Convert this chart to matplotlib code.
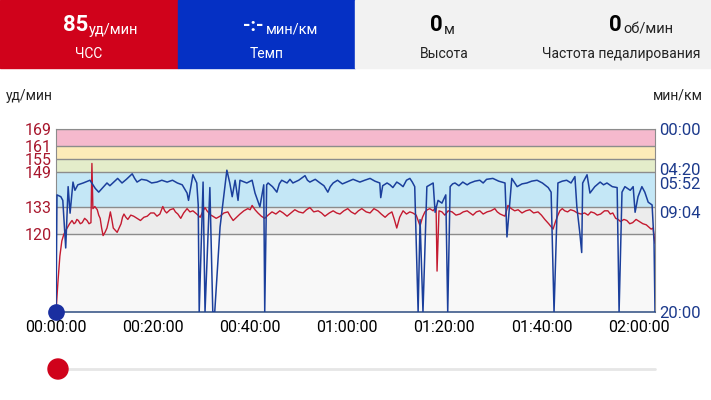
import matplotlib.pyplot as plt
from matplotlib.patches import Rectangle, Circle

plt.rcParams['font.family'] = ['Roboto', 'DejaVu Sans']

# heart rate, minutes from start / bpm
hr_t = [0.0, 0.4, 0.8, 1.2, 1.6, 2.0, 2.3, 2.8, 3.3, 3.7, 4.0, 4.3, 4.6, 5.0, 5.4, 5.9,
        6.4, 6.8, 7.2, 7.4, 7.6, 8.0, 8.5, 8.8, 9.1, 9.4, 9.7, 10.1, 10.5, 10.9, 11.2, 11.5,
        11.8, 12.2, 12.6, 13.0, 13.4, 13.7, 14.0, 14.4, 14.8, 15.4, 16.0, 16.7, 17.4, 18.1,
        18.8, 19.5, 20.2, 20.8, 21.4, 22.0, 22.4, 22.8, 23.5, 24.2, 24.6, 25.1, 25.7, 26.3,
        27.0, 27.6, 28.2, 29.0, 29.7, 30.2, 30.7, 31.1, 31.5, 31.9, 32.3, 33.0, 33.8, 34.6,
        35.4, 35.9, 36.5, 37.2, 37.9, 38.7, 39.5, 40.0, 40.4, 41.0, 41.6, 42.3, 43.0, 43.7,
        44.5, 45.3, 46.1, 46.8, 47.6, 48.4, 49.2, 50.0, 50.9, 51.6, 52.3, 53.1, 54.0, 54.7,
        55.4, 56.3, 57.1, 57.8, 58.5, 59.3, 60.1, 60.8, 61.6, 62.3, 63.0, 63.9, 64.7, 65.5,
        66.3, 67.0, 67.8, 68.5, 69.2, 69.7, 70.2, 70.8, 71.5, 72.2, 72.9, 73.5, 74.2, 74.6,
        75.0, 75.5, 76.0, 76.5, 77.0, 77.7, 78.3, 78.5, 78.9, 79.5, 80.1, 80.8, 81.6, 82.4,
        83.2, 83.9, 84.7, 85.3, 85.9, 86.6, 87.3, 88.0, 88.8, 89.6, 90.4, 90.9, 91.5, 92.0,
        92.5, 92.8, 93.1, 93.8, 94.5, 95.2, 96.0, 96.8, 97.6, 98.4, 99.3, 100.0, 100.7, 101.5,
        102.4, 102.9, 103.4, 103.8, 104.3, 104.8, 105.4, 106.0, 106.7, 107.4, 108.2, 108.9,
        109.6, 110.2, 110.9, 111.5, 112.2, 113.0, 113.7, 114.2, 114.7, 115.3, 115.8, 116.3,
        117.0, 117.6, 118.2, 118.8, 119.5, 120.2, 120.9, 121.6, 122.1, 122.6, 123.0, 123.4]
hr_v = [84, 98, 110, 117, 120, 122, 123, 125, 126.5, 125, 125.5, 127, 126.5, 125, 125.5, 127.5,
        126.5, 125, 125.5, 153, 132, 133, 131.5, 129, 127.5, 123, 119.5, 121, 123, 127, 130.5, 127,
        123, 122, 121, 123, 125, 128, 129.5, 128, 127, 129, 128.5, 127.5, 126.5, 128,
        128.5, 130, 130, 128.5, 129.5, 133, 131, 130, 131.5, 132, 130.5, 129.5, 127.5, 130,
        132, 130.5, 131, 129.5, 128, 130.5, 132.5, 131, 130, 129, 128.5, 127.5, 128.5, 130,
        130.5, 128.5, 126.5, 128, 129.5, 131, 132, 131.5, 133.5, 131.5, 130, 128.5, 127.5, 129,
        130.5, 129.5, 131, 130, 128.5, 130, 131.5, 130.5, 130, 131.5, 132.5, 130.5, 131, 130,
        128.5, 130, 131, 130, 129.5, 131, 132, 130.5, 129.5, 131, 132, 130.5, 130, 132,
        131, 129.5, 128, 129.5, 130.5, 127, 123, 128, 131, 129.5, 130.5, 130, 129, 126.5,
        124, 128, 130.5, 131.5, 132, 131, 133, 103, 131, 130.5, 129, 131, 130.5, 129,
        129.5, 130.5, 131, 130, 129, 130.5, 131, 129.5, 130.5, 131, 132, 130.5, 129.5, 129,
        128.5, 131, 133.5, 132, 131, 131.5, 130, 131, 131.5, 130, 130.5, 129, 127, 125,
        122.5, 126, 129, 131, 132, 131, 130.5, 131.5, 131, 130, 129.5, 130,
        129, 130.5, 130, 129, 129.5, 131, 131, 129.5, 130, 127.5, 127, 126,
        127, 126.5, 125, 125.5, 127, 126, 125, 124.5, 123.5, 122.5, 123, 116]

# pace, minutes from start / min per km
pace_t = [0.0, 0.2, 1.0, 1.4, 2.0, 2.5, 2.9, 3.5, 3.9, 4.5, 5.6, 7.0, 8.1, 8.8, 10.5, 11.1,
          11.7, 12.7, 13.6, 14.5, 15.7, 16.2, 16.7, 17.6, 18.7, 19.7, 20.8, 21.8, 22.9, 24.0,
          25.0, 26.0, 27.0, 27.3, 28.2, 29.0, 29.3, 29.5, 30.3, 30.7, 31.7, 32.3, 32.7, 33.8,
          35.2, 35.8, 36.3, 36.9, 37.5, 37.9, 39.3, 40.4, 41.0, 42.0, 42.8, 43.0, 43.4, 43.7,
          44.6, 45.5, 46.0, 46.5, 47.6, 48.2, 48.8, 50.0, 51.3, 51.8, 52.3, 53.4, 54.4, 55.2,
          56.0, 56.5, 57.1, 58.0, 59.0, 59.9, 61.2, 62.6, 63.6, 64.7, 65.7, 66.7, 66.9, 67.3,
          68.2, 68.8, 69.4, 70.2, 70.8, 71.5, 72.2, 72.9, 73.4, 73.9, 74.6, 75.0, 75.6, 76.4,
          77.7, 78.1, 78.7, 79.5, 80.3, 80.7, 81.2, 81.7, 82.2, 83.0, 83.8, 84.7, 85.3, 86.3,
          87.3, 88.0, 88.7, 90.0, 91.2, 92.5, 92.9, 93.9, 95.0, 96.0, 97.0, 98.0, 99.1, 100.2,
          101.4, 102.0, 102.6, 103.4, 104.3, 105.2, 106.1, 106.9, 107.3, 107.9, 108.3, 108.5,
          109.4, 110.0, 111.0, 112.1, 112.8, 113.5, 114.6, 115.6, 116.0, 116.6, 117.2, 118.3,
          118.9, 119.3, 119.9, 120.7, 121.3, 122.0, 122.8, 123.2, 123.4]
pace_v = [20, 7.2, 7.4, 7.8, 13.0, 6.3, 9.2, 5.8, 6.7, 6.1, 5.9, 5.6, 6.5, 6.9, 5.9, 6.2,
          5.9, 5.4, 5.9, 5.5, 4.9, 5.4, 5.8, 5.5, 5.6, 5.9, 5.8, 5.6, 5.8, 5.6,
          5.9, 6.1, 7.0, 7.8, 5.0, 5.9, 8.3, 20, 5.8, 20, 6.4, 20, 20, 10.7,
          4.5, 5.9, 7.4, 5.6, 7.8, 5.6, 5.9, 5.6, 7.0, 8.5, 6.1, 20, 6.1, 5.9,
          6.3, 6.9, 6.0, 5.6, 5.9, 5.5, 5.9, 5.6, 5.1, 5.6, 5.8, 5.5, 5.9, 6.2,
          6.9, 6.3, 5.9, 5.6, 6.0, 5.8, 5.5, 5.8, 5.6, 5.4, 5.7, 5.9, 7.5, 6.2,
          5.9, 6.1, 6.4, 5.8, 6.0, 6.3, 5.6, 5.4, 5.8, 6.3, 20, 9.9, 20, 6.3,
          5.9, 9.1, 7.8, 8.1, 7.2, 20, 6.3, 6.0, 5.9, 6.2, 5.8, 6.1, 5.9, 5.7,
          5.6, 5.9, 5.5, 5.4, 5.7, 5.9, 11.8, 5.4, 6.3, 6.0, 5.9, 5.7, 5.6, 5.9,
          6.4, 6.9, 20, 5.9, 5.7, 5.6, 5.9, 5.2, 8.5, 11.3, 13.5, 5.9,
          5.0, 7.0, 6.3, 5.8, 6.1, 5.9, 6.3, 6.4, 20, 6.9, 6.3, 6.7,
          6.3, 9.1, 7.4, 6.3, 6.9, 8.0, 8.3, 12.3, 20]

# heart rate zones
zone_edges = [84, 120, 133, 149, 155, 161, 169]
zone_colors = ['#f8f8f8', '#ececec', '#c4e7f6', '#e4edca', '#fdebb8', '#f5b9cd']
hr_ticks = [120, 133, 149, 155, 161, 169]
pace_ticks = [0, 4 + 20 / 60, 5 + 52 / 60, 9 + 4 / 60, 20]
pace_labels = ['00:00', '04:20', '05:52', '09:04', '20:00']
x_ticks = [0, 20, 40, 60, 80, 100, 120]
x_labels = ['00:00:00', '00:20:00', '00:40:00', '01:00:00', '01:20:00', '01:40:00', '02:00:00']
t_end = 123.4

RED = '#d0021b'
BLUE = '#0530c4'
HR_LINE = '#c41a30'
PACE_LINE = '#1b3f9c'

fig = plt.figure(figsize=(7.11, 4.0), dpi=100)

# header and other decorations in pixel coordinates
bg = fig.add_axes([0, 0, 1, 1], zorder=-5)
bg.set_xlim(0, 711)
bg.set_ylim(400, 0)
bg.axis('off')
bg.add_patch(Rectangle((0, 0), 178, 68, color=RED))
bg.add_patch(Rectangle((178, 0), 177, 68, color=BLUE))
bg.add_patch(Rectangle((355, 0), 356, 68, color='#f2f2f2'))

bg.text(88, 31, '85', color='white', fontsize=16, fontweight='bold', ha='right', va='baseline')
bg.text(89, 34, 'уд/мин', color='white', fontsize=10.5, ha='left', va='baseline')
bg.text(89, 58, 'ЧСС', color='white', fontsize=10, ha='center', va='baseline')
bg.text(264, 31, '-:-', color='white', fontsize=14, fontweight='bold', ha='right', va='baseline')
bg.text(266, 34, 'мин/км', color='white', fontsize=10.5, ha='left', va='baseline')
bg.text(267, 58, 'Темп', color='white', fontsize=10, ha='center', va='baseline')
bg.text(443, 31, '0', color='black', fontsize=16, fontweight='bold', ha='right', va='baseline')
bg.text(444, 34, 'м', color='#222222', fontsize=10.5, ha='left', va='baseline')
bg.text(444, 58, 'Высота', color='#222222', fontsize=10, ha='center', va='baseline')
bg.text(622, 31, '0', color='black', fontsize=16, fontweight='bold', ha='right', va='baseline')
bg.text(623, 34, 'об/мин', color='#222222', fontsize=10.5, ha='left', va='baseline')
bg.text(621, 58, 'Частота педалирования', color='#222222', fontsize=10, ha='center', va='baseline')

bg.text(6, 100, 'уд/мин', color='#222222', fontsize=10, ha='left', va='baseline')
bg.text(703, 100, 'мин/км', color='#222222', fontsize=10, ha='right', va='baseline')

# slider
bg.plot([57, 655], [369, 369], color='#e6e6e6', lw=2, solid_capstyle='round')
bg.add_patch(Circle((58, 369), 10, color=RED, zorder=3))

ax = fig.add_axes([56 / 711, 1 - 312 / 400, 599 / 711, 183 / 400])
for lo, hi, c in zip(zone_edges[:-1], zone_edges[1:], zone_colors):
    ax.axhspan(lo, hi, color=c, lw=0, zorder=0)
for e in hr_ticks:
    ax.axhline(e, color='#8c8c8c', lw=1, zorder=1)
ax.plot(hr_t, hr_v, color=HR_LINE, lw=1, zorder=3)
ax.set_xlim(0, t_end)
ax.set_ylim(zone_edges[0], zone_edges[-1])
ax.set_yticks(hr_ticks)
ax.set_yticklabels([str(v) for v in hr_ticks])
ax.set_xticks(x_ticks)
ax.set_xticklabels(x_labels)
ax.tick_params(axis='y', length=0, pad=3, labelsize=11.5, labelcolor='#a8172d')
ax.tick_params(axis='x', length=0, pad=6, labelsize=11.5, labelcolor='black')
for s in ['left', 'right', 'top']:
    ax.spines[s].set_color('#8c8c8c')
ax.spines['bottom'].set_color('#3d5a8a')
ax.spines['bottom'].set_linewidth(1.2)

ax2 = ax.twinx()
ax2.plot(pace_t, pace_v, color=PACE_LINE, lw=1.1, zorder=4)
ax2.set_ylim(20, 0)
ax2.set_yticks(pace_ticks)
ax2.set_yticklabels(pace_labels)
ax2.tick_params(axis='y', length=0, pad=3, labelsize=12, labelcolor='#1c3a8c')
for s in ax2.spines.values():
    s.set_visible(False)
ax2.plot([0], [20], 'o', color='#1a2fa0', ms=11, clip_on=False, zorder=6)

fig.savefig('out.png', dpi=100)
